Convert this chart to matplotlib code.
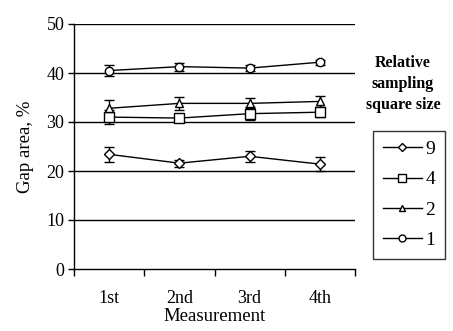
import matplotlib as mpl
mpl.use('Agg')
import matplotlib.pyplot as plt
from matplotlib.lines import Line2D

plt.rcParams['font.family'] = ['Liberation Serif', 'DejaVu Serif']

measurements = ['1st', '2nd', '3rd', '4th']
sizes = ['9', '4', '2', '1']
markers = ['D', 's', '^', 'o']

gap_9 = [23.4, 21.6, 23.0, 21.4]
err_9 = [1.5, 0.7, 1.1, 1.4]
gap_4 = [31.0, 30.8, 31.7, 32.0]
err_4 = [1.5, 0.5, 1.3, 1.0]
gap_2 = [32.8, 33.8, 33.8, 34.2]
err_2 = [1.6, 1.4, 1.0, 1.1]
gap_1 = [40.5, 41.3, 41.0, 42.2]
err_1 = [1.2, 0.8, 0.6, 0.5]

series = [(gap_9, err_9), (gap_4, err_4), (gap_2, err_2), (gap_1, err_1)]
msizes = [5, 6.5, 6, 6]

fig = plt.figure(figsize=(4.53, 3.31), dpi=100)
ax = fig.add_axes([74 / 453, 62 / 331, 281 / 453, 245 / 331])

for y in [10, 20, 30, 40, 50]:
  ax.axhline(y, color='black', lw=1, zorder=1)

x = list(range(len(measurements)))
handles = []
for (vals, errs), lab, m, ms in zip(series, sizes, markers, msizes):
  ax.errorbar(x, vals, yerr=errs, color='black', lw=1, marker=m, ms=ms,
              mfc='white', mec='black', mew=1, capsize=3.5, capthick=1,
              elinewidth=1, zorder=3)
  handles.append(Line2D([], [], color='black', lw=1, marker=m, ms=ms - 1,
                        mfc='white', mec='black', mew=1, label=lab))

ax.set_xlim(-0.5, 3.5)
ax.set_ylim(0, 50)
ax.set_yticks([0, 10, 20, 30, 40, 50])
ax.set_xticks([-0.5, 0.5, 1.5, 2.5, 3.5])
ax.set_xticklabels([])
ax.set_xticks(x, minor=True)
ax.set_xticklabels(measurements, minor=True)
ax.tick_params(axis='x', which='major', direction='out', length=5, width=1)
ax.tick_params(axis='x', which='minor', length=0, pad=15, labelsize=13)
ax.tick_params(axis='y', direction='out', length=4, width=1, labelsize=13, pad=3)
for s in ['top', 'right']:
  ax.spines[s].set_visible(False)
for s in ['left', 'bottom']:
  ax.spines[s].set_linewidth(1)

ax.set_xlabel('Measurement', fontsize=13.5, labelpad=1)
ax.set_ylabel('Gap area, %', fontsize=13.5, labelpad=9)

leg = fig.legend(handles=handles, loc='lower left',
                 bbox_to_anchor=(373 / 453, 72 / 331),
                 fontsize=14, frameon=True, fancybox=False, edgecolor='black',
                 handlelength=2.0, handletextpad=0.2, labelspacing=0.66,
                 borderpad=0.5, borderaxespad=0)
leg.get_frame().set_linewidth(1)

fig.text(403 / 453, 1 - 84 / 331, 'Relative\nsampling\nsquare size',
         ha='center', va='center', fontsize=11.5, fontweight='bold',
         linespacing=1.45)

fig.savefig('out.png', dpi=100)
